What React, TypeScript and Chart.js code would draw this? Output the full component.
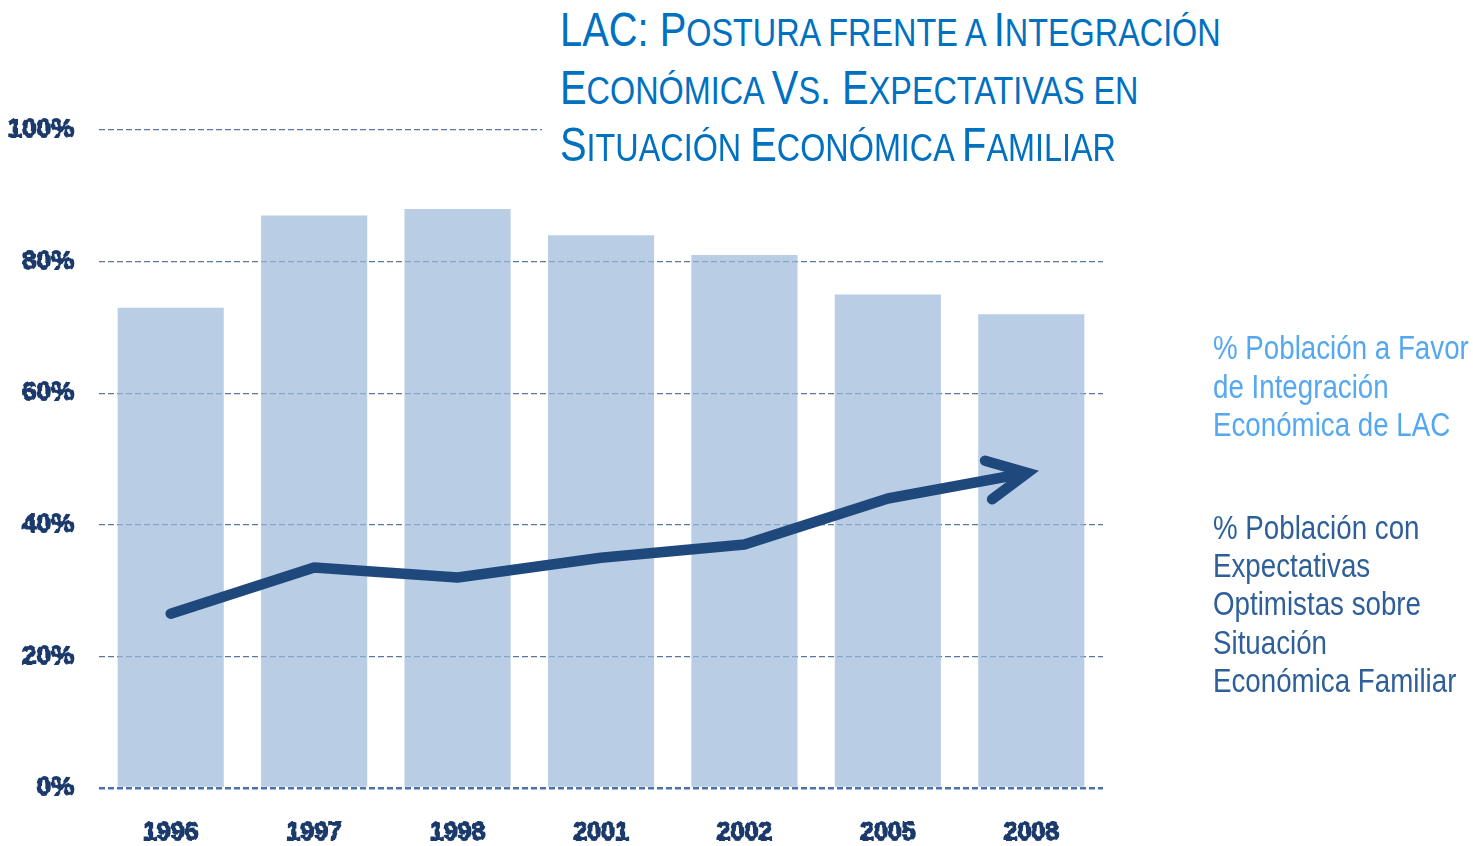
import React, { useEffect, useRef } from "react";
import { Chart, registerables } from "chart.js";

Chart.register(...registerables);

const years = ["1996", "1997", "1998", "2001", "2002", "2005", "2008"];
const favorIntegracion = [73, 87, 88, 84, 81, 75, 72];
const expectativasOptimistas = [26.5, 33.5, 32, 35, 37, 44, 48];
const yTickValues = [0, 20, 40, 60, 80, 100];

const titleLines: [string, boolean][][] = [
  [["LAC: P", true], ["OSTURA FRENTE A ", false], ["I", true], ["NTEGRACIÓN", false]],
  [["E", true], ["CONÓMICA ", false], ["V", true], ["S", false], [". ", true], ["E", true], ["XPECTATIVAS EN", false]],
  [["S", true], ["ITUACIÓN ", false], ["E", true], ["CONÓMICA ", false], ["F", true], ["AMILIAR", false]],
];
const legendFavor = ["% Población a Favor", "de Integración", "Económica de LAC"];
const legendExpect = ["% Población con", "Expectativas", "Optimistas sobre", "Situación", "Económica Familiar"];

const SANS = '"Liberation Sans", Arial, sans-serif';
const LINE_COLOR = "#1F497D";
const TICK_COLOR = "#1B3A6B";

const arrowPlugin = {
  id: "arrowHead",
  beforeDatasetDraw(chart: any, args: any) {
    if (args.index !== 1) return;
    const pts = chart.getDatasetMeta(1).data;
    const p2 = pts[pts.length - 1];
    const ctx = chart.ctx;
    ctx.save();
    ctx.beginPath();
    ctx.rect(0, 0, p2.x - 6, chart.height);
    ctx.clip();
  },
  afterDatasetDraw(chart: any, args: any) {
    if (args.index !== 1) return;
    const ctx = chart.ctx;
    ctx.restore();
    const pts = chart.getDatasetMeta(1).data;
    const p1 = pts[pts.length - 2];
    const p2 = pts[pts.length - 1];
    const ang = Math.atan2(p2.y - p1.y, p2.x - p1.x);
    const spread = 0.46;
    const len = 44;
    const back = 4;
    const ax = p2.x - back * Math.cos(ang);
    const ay = p2.y - back * Math.sin(ang);
    ctx.save();
    ctx.setLineDash([]);
    ctx.strokeStyle = LINE_COLOR;
    ctx.lineWidth = 10.5;
    ctx.lineCap = "round";
    ctx.lineJoin = "miter";
    ctx.miterLimit = 10;
    ctx.beginPath();
    ctx.moveTo(ax - len * Math.cos(ang - spread), ay - len * Math.sin(ang - spread));
    ctx.lineTo(ax, ay);
    ctx.lineTo(ax - len * Math.cos(ang + spread), ay - len * Math.sin(ang + spread));
    ctx.stroke();
    ctx.restore();
  },
};

export default function App() {
  const canvasRef = useRef<HTMLCanvasElement | null>(null);

  useEffect(() => {
    const canvas = canvasRef.current;
    if (!canvas) return;
    const chart = new Chart(canvas, {
      type: "bar",
      data: {
        labels: years,
        datasets: [
          {
            type: "bar",
            label: "% Población a Favor de Integración Económica de LAC",
            data: favorIntegracion,
            backgroundColor: "rgba(155,184,218,0.7)",
            borderWidth: 0,
            barPercentage: 0.74,
            categoryPercentage: 1,
            order: 2,
          },
          {
            type: "line",
            label: "% Población con Expectativas Optimistas sobre Situación Económica Familiar",
            data: expectativasOptimistas,
            borderColor: LINE_COLOR,
            backgroundColor: LINE_COLOR,
            borderWidth: 10.5,
            borderCapStyle: "round",
            borderJoinStyle: "round",
            pointRadius: 0,
            tension: 0,
            fill: false,
            order: 1,
          } as any,
        ],
      },
      options: {
        responsive: false,
        animation: false,
        devicePixelRatio: 1,
        layout: { padding: { left: 0, top: 130, right: 370, bottom: 0 } },
        plugins: {
          legend: { display: false },
          title: { display: false },
          tooltip: { enabled: false },
        },
        scales: {
          x: {
            grid: { display: false, drawTicks: false },
            border: { display: false },
            ticks: {
              color: TICK_COLOR,
              font: { family: SANS, size: 25, weight: "bold" },
              textStrokeColor: TICK_COLOR,
              textStrokeWidth: 1.8,
              padding: 30,
            } as any,
            afterFit: (s: any) => {
              s.height = 58;
            },
          },
          y: {
            min: 0,
            max: 100,
            afterBuildTicks: (s: any) => {
              s.ticks = yTickValues.map((v) => ({ value: v }));
            },
            grid: {
              drawTicks: false,
              color: (c: any) => (c.tick && c.tick.value === 0 ? "#4D72AA" : "#5B76A0"),
              lineWidth: (c: any) => (c.tick && c.tick.value === 0 ? 2.5 : 1.3),
            },
            border: { display: false, dash: [6, 3] },
            ticks: {
              color: TICK_COLOR,
              font: { family: SANS, size: 26, weight: "bold" },
              textStrokeColor: TICK_COLOR,
              textStrokeWidth: 1.8,
              padding: 25,
              callback: (v: any) => v + "%",
            } as any,
            afterFit: (s: any) => {
              s.width = 99;
            },
          },
        },
      } as any,
      plugins: [
        arrowPlugin,
        {
          id: "dashGrid",
          beforeDraw(chart: any) {
            chart.ctx.setLineDash([6, 3]);
          },
        },
      ],
    });
    return () => chart.destroy();
  }, []);

  const narrowTitle = { transform: "scaleX(0.83)", transformOrigin: "0 0" } as const;
  const narrowLegend = { transform: "scaleX(0.84)", transformOrigin: "0 0" } as const;

  return (
    <div style={{ position: "absolute", left: 0, top: 0, width: 1473, height: 846, background: "#fff", overflow: "hidden" }}>
      <canvas ref={canvasRef} width={1473} height={846} style={{ position: "absolute", left: 0, top: 0, width: 1473, height: 846 }} />
      <div style={{ position: "absolute", left: 542, top: 0, width: 720, height: 172, background: "#fff" }}>
        {titleLines.map((line, i) => (
          <div
            key={i}
            style={{
              position: "absolute",
              left: 18,
              top: 1 + i * 57.5,
              fontFamily: SANS,
              color: "#0070C0",
              whiteSpace: "nowrap",
              lineHeight: "57px",
              ...narrowTitle,
            }}
          >
            {line.map(([t, big], j) => (
              <span key={j} style={{ fontSize: big ? 48 : 39 }}>
                {t}
              </span>
            ))}
          </div>
        ))}
      </div>
      <div style={{ position: "absolute", left: 1213, top: 329, fontFamily: SANS, fontSize: 33, lineHeight: "38.5px", color: "#55A8F0", whiteSpace: "nowrap", ...narrowLegend }}>
        {legendFavor.map((t, i) => (
          <div key={i}>{t}</div>
        ))}
      </div>
      <div style={{ position: "absolute", left: 1213, top: 509, fontFamily: SANS, fontSize: 33, lineHeight: "38.2px", color: "#2E5F99", whiteSpace: "nowrap", ...narrowLegend }}>
        {legendExpect.map((t, i) => (
          <div key={i}>{t}</div>
        ))}
      </div>
    </div>
  );
}
